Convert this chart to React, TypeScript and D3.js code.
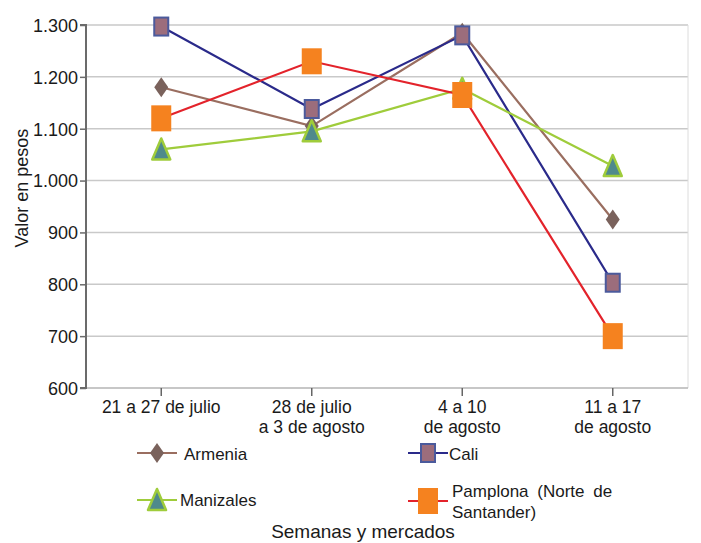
import React, { useEffect, useRef } from "react";
import * as d3 from "d3";

const weeks: string[][] = [
  ["21 a 27 de julio"],
  ["28 de julio", "a 3 de agosto"],
  ["4 a 10", "de agosto"],
  ["11 a 17", "de agosto"],
];

const armenia = [1180, 1105, 1285, 925];
const cali = [1297, 1138, 1280, 803];
const manizales = [1060, 1095, 1177, 1028];
const pamplona = [1120, 1230, 1165, 700];

const yTicks = [600, 700, 800, 900, 1000, 1100, 1200, 1300];

type Series = {
  name: string[];
  values: number[];
  line: string;
  marker: "diamond" | "square" | "triangle" | "bigsquare";
};

const series: Series[] = [
  { name: ["Armenia"], values: armenia, line: "#9a6e60", marker: "diamond" },
  { name: ["Cali"], values: cali, line: "#2a2a8a", marker: "square" },
  { name: ["Manizales"], values: manizales, line: "#9fcc3b", marker: "triangle" },
  { name: ["Pamplona (Norte de", "Santander)"], values: pamplona, line: "#e3232b", marker: "bigsquare" },
];

const fmt = (v: number) => d3.format(",")(v).replace(/,/g, ".");

function drawMarker(g: d3.Selection<SVGGElement, unknown, null, undefined>, kind: Series["marker"]) {
  if (kind === "diamond") {
    g.append("path").attr("d", "M0,-10L7,0L0,10L-7,0Z").attr("fill", "#7a625c");
  } else if (kind === "square") {
    g.append("rect")
      .attr("x", -7).attr("y", -9).attr("width", 14).attr("height", 18)
      .attr("fill", "#9c6d7c").attr("stroke", "#4b5a9c").attr("stroke-width", 2);
  } else if (kind === "triangle") {
    g.append("path").attr("d", "M0,-11L9,10L-9,10Z")
      .attr("fill", "#4f8a8c").attr("stroke", "#9fcc3b").attr("stroke-width", 2.5)
      .attr("stroke-linejoin", "round");
  } else {
    g.append("rect")
      .attr("x", -10).attr("y", -13).attr("width", 20).attr("height", 26)
      .attr("fill", "#f5821f");
  }
}

export default function App() {
  const ref = useRef<SVGSVGElement | null>(null);

  useEffect(() => {
    const width = 701;
    const height = 543;
    const margin = { top: 25, right: 13, bottom: 155, left: 86 };
    const font = "'Liberation Sans', Arial, sans-serif";

    const svg = d3.select(ref.current).attr("width", width).attr("height", height);
    svg.selectAll("*").remove();

    const x = d3
      .scaleBand<number>()
      .domain(d3.range(weeks.length))
      .range([margin.left, width - margin.right])
      .padding(0);
    const cx = (i: number) => (x(i) ?? 0) + x.bandwidth() / 2;

    const y = d3
      .scaleLinear()
      .domain([600, 1300])
      .range([height - margin.bottom, margin.top]);

    // gridlines
    svg
      .append("g")
      .selectAll("line")
      .data(yTicks.slice(1))
      .join("line")
      .attr("x1", margin.left)
      .attr("x2", width - margin.right)
      .attr("y1", (d) => y(d))
      .attr("y2", (d) => y(d))
      .attr("stroke", "#c9c9c9")
      .attr("stroke-width", 1.5);

    svg
      .append("line")
      .attr("x1", width - margin.right)
      .attr("x2", width - margin.right)
      .attr("y1", margin.top)
      .attr("y2", y(600))
      .attr("stroke", "#dcdcdc");

    // bottom axis
    svg
      .append("line")
      .attr("x1", margin.left)
      .attr("x2", width - margin.right)
      .attr("y1", y(600))
      .attr("y2", y(600))
      .attr("stroke", "#b5b5b5")
      .attr("stroke-width", 1.5);

    svg
      .append("g")
      .selectAll("line")
      .data(d3.range(weeks.length))
      .join("line")
      .attr("x1", (d) => cx(d))
      .attr("x2", (d) => cx(d))
      .attr("y1", y(600))
      .attr("y2", y(600) + 8)
      .attr("stroke", "#666")
      .attr("stroke-width", 1.5);

    // left axis
    const yAxis = svg
      .append("g")
      .attr("transform", `translate(${margin.left},0)`)
      .call(d3.axisLeft(y).tickValues(yTicks).tickSize(6).tickPadding(2).tickFormat((d) => fmt(d as number)));
    yAxis.select(".domain").attr("stroke", "#6b6b6b").attr("stroke-width", 2)
      .attr("d", `M-6,${y(1300)}H0V${y(600)}H-6`);
    yAxis.selectAll(".tick line").attr("stroke", "#6b6b6b").attr("stroke-width", 1.5);
    yAxis
      .selectAll(".tick text")
      .attr("font-family", font)
      .attr("font-size", 18)
      .attr("fill", "#1a1a1a")
      .attr("dy", "0.35em");

    // x labels
    const xl = svg
      .append("g")
      .selectAll("text")
      .data(weeks)
      .join("text")
      .attr("x", (_, i) => cx(i))
      .attr("y", 413)
      .attr("text-anchor", "middle")
      .attr("font-family", font)
      .attr("font-size", 17.5)
      .attr("fill", "#1a1a1a");
    xl.selectAll("tspan")
      .data((d) => d.map((t, j) => ({ t, j })))
      .join("tspan")
      .attr("x", function () {
        return (this as SVGTSpanElement).parentElement!.getAttribute("x");
      })
      .attr("dy", (d) => (d.j === 0 ? 0 : 19.5))
      .text((d) => d.t);

    // lines and markers
    const line = d3
      .line<number>()
      .x((_, i) => cx(i))
      .y((d) => y(d));

    series.forEach((s) => {
      svg
        .append("path")
        .datum(s.values)
        .attr("fill", "none")
        .attr("stroke", s.line)
        .attr("stroke-width", 2.2)
        .attr("d", line);
    });
    series.forEach((s) => {
      s.values.forEach((v, i) => {
        const g = svg.append("g").attr("transform", `translate(${cx(i)},${y(v)})`);
        drawMarker(g, s.marker);
      });
    });

    // axis titles
    svg
      .append("text")
      .attr("transform", `translate(28,188) rotate(-90)`)
      .attr("text-anchor", "middle")
      .attr("font-family", font)
      .attr("font-size", 18)
      .attr("fill", "#1a1a1a")
      .text("Valor en pesos");

    svg
      .append("text")
      .attr("x", 363)
      .attr("y", 538)
      .attr("text-anchor", "middle")
      .attr("font-family", font)
      .attr("font-size", 19)
      .attr("fill", "#1a1a1a")
      .text("Semanas y mercados");

    // legend
    const legendPos = [
      { lx: 137, ly: 453, tx: 184, ty: 460 },
      { lx: 408, ly: 453, tx: 449, ty: 460 },
      { lx: 137, ly: 500, tx: 180, ty: 506 },
      { lx: 408, ly: 501, tx: 452, ty: 497 },
    ];
    series.forEach((s, i) => {
      const p = legendPos[i];
      const g = svg.append("g");
      g.append("line")
        .attr("x1", p.lx)
        .attr("x2", p.lx + 40)
        .attr("y1", p.ly)
        .attr("y2", p.ly)
        .attr("stroke", s.line)
        .attr("stroke-width", 2.2);
      const m = g.append("g").attr("transform", `translate(${p.lx + 20},${p.ly})`);
      drawMarker(m, s.marker);
      const t = g
        .append("text")
        .attr("x", p.tx)
        .attr("y", p.ty)
        .attr("font-family", font)
        .attr("font-size", 17)
        .attr("fill", "#1a1a1a");
      s.name.forEach((n, j) => {
        t.append("tspan")
          .attr("x", p.tx)
          .attr("dy", j === 0 ? 0 : 21)
          .attr("word-spacing", s.name.length > 1 && j === 0 ? 4 : 0)
          .text(n);
      });
    });
  }, []);

  return (
    <svg
      ref={ref}
      style={{ position: "absolute", left: 0, top: 0, background: "#fff" }}
    />
  );
}
